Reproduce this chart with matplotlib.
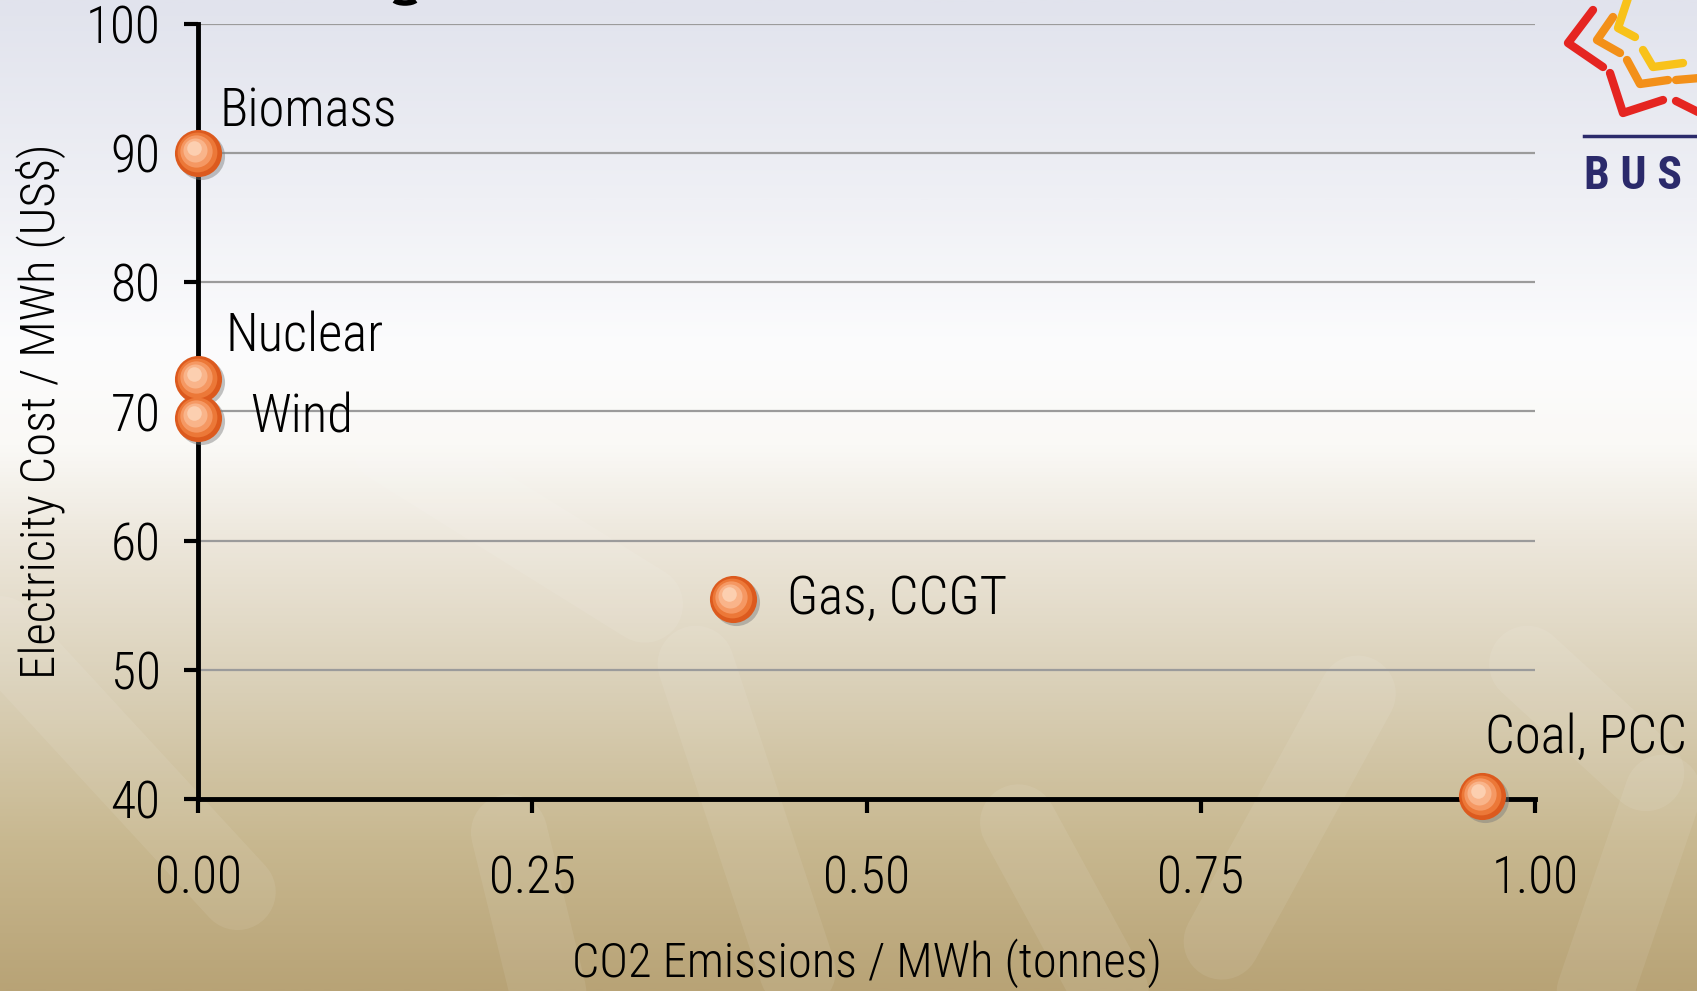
import numpy as np
import matplotlib
matplotlib.use("Agg")
from matplotlib import pyplot as plt
from matplotlib import transforms
from matplotlib.patches import Arc
from matplotlib.colors import LinearSegmentedColormap

# data
sources = ["Biomass", "Nuclear", "Wind", "Gas, CCGT", "Coal, PCC"]
co2_per_mwh = [0.0, 0.0, 0.0, 0.40, 0.96]
cost_per_mwh = [90.0, 72.5, 69.5, 55.5, 40.2]

x_ticks = [0.0, 0.25, 0.5, 0.75, 1.0]
x_tick_labels = ["0.00", "0.25", "0.50", "0.75", "1.00"]
y_ticks = [40, 50, 60, 70, 80, 90, 100]

# label offsets from each point, in pixels (layout only)
label_offsets = [(22, 41), (27, 42), (52, 0), (54, 0), (3, 58)]

plt.rcParams['font.family'] = ['Roboto Condensed', 'DejaVu Sans']
plt.rcParams['font.weight'] = 'light'
plt.rcParams['axes.labelweight'] = 'light'

fig = plt.figure(figsize=(16.97, 9.91), dpi=100)

# background gradient
bg = fig.add_axes([0, 0, 1, 1], zorder=-10)
stops = [(0.0, "#b8a376"), (0.15, "#c8b890"), (0.3, "#d9cfb6"), (0.45, "#ece6da"),
         (0.55, "#faf9f6"), (0.65, "#fcfcfd"), (0.8, "#eff0f5"), (1.0, "#e1e3ed")]
cmap = LinearSegmentedColormap.from_list("bg", stops)
grad = np.linspace(0, 1, 512).reshape(-1, 1)
bg.imshow(grad, aspect='auto', cmap=cmap, origin='lower', extent=[0, 1, 0, 1])
# faint swooshes
swooshes = [
    [(0.00, 0.36), (0.14, 0.10)],
    [(0.23, 0.55), (0.38, 0.39)],
    [(0.41, 0.33), (0.47, 0.02)],
    [(0.30, 0.16), (0.33, -0.05)],
    [(0.60, 0.17), (0.67, -0.05)],
    [(0.80, 0.30), (0.72, 0.05)],
    [(0.98, 0.20), (0.93, -0.05)],
    [(0.90, 0.33), (0.97, 0.22)],
]
for seg in swooshes:
    xs, ys = zip(*seg)
    bg.plot(xs, ys, color="white", lw=55, alpha=0.08, solid_capstyle='round')

# logo fragment at top right
chevrons = [
    ("#e52521", [(1593, 10), (1568, 43), (1603, 67)]),
    ("#e52521", [(1610, 73), (1623, 113), (1663, 100)]),
    ("#e52521", [(1676, 101), (1700, 113)]),
    ("#f39019", [(1613, 17), (1597, 40), (1620, 53)]),
    ("#f39019", [(1627, 60), (1640, 84), (1668, 80)]),
    ("#f39019", [(1676, 80), (1700, 78)]),
    ("#f8c21a", [(1628, -2), (1618, 28), (1635, 37)]),
    ("#f8c21a", [(1643, 50), (1653, 67), (1683, 63)]),
]
for col, pts in chevrons:
    xs = [p[0] / 1697 for p in pts]
    ys = [1 - p[1] / 991 for p in pts]
    bg.plot(xs, ys, color=col, lw=6, solid_capstyle='round', solid_joinstyle='round')
bg.plot([1584 / 1697, 1], [1 - 136 / 991] * 2, color="#2b2a6b", lw=2.5)
# cut-off title descender
bg.add_patch(Arc((405 / 1697, 1 + 2 / 991), 24 / 1697, 10 / 991, theta1=200, theta2=340,
                 color="black", lw=4))
bg.set_xlim(0, 1)
bg.set_ylim(0, 1)
bg.axis('off')
fig.text(1584 / 1697, 1 - 176 / 991, "B U S", color="#2b2a6b", fontsize=33,
         fontweight='bold', va='center', ha='left')

ax = fig.add_axes([198 / 1697, 1 - 799 / 991, (1535 - 198) / 1697, (799 - 24) / 991])
ax.set_facecolor('none')
ax.set_xlim(0, 1)
ax.set_ylim(40, 100)

ax.grid(axis='y', color="#9b9b9b", lw=1.6)
ax.set_axisbelow(True)
for s in ['top', 'right']:
    ax.spines[s].set_visible(False)
for s in ['left', 'bottom']:
    ax.spines[s].set_linewidth(3.5)
    ax.spines[s].set_color('black')

ax.set_xticks(x_ticks)
ax.set_xticklabels(x_tick_labels)
ax.set_yticks(y_ticks)
ax.tick_params(axis='x', direction='out', length=10, width=3, pad=30, labelsize=37)
ax.tick_params(axis='y', direction='out', length=10, width=3, pad=17, labelsize=37)

ax.set_xlabel("CO2 Emissions / MWh (tonnes)", fontsize=35, fontweight='light')
ax.set_ylabel("Electricity Cost / MWh (US$)", fontsize=35, fontweight='light')
ax.xaxis.set_label_coords(0.5, (799 - 963) / (799 - 24))
ax.xaxis.label.set_va('center')
ax.yaxis.set_label_coords((41 - 198) / (1535 - 198), 0.5)
ax.yaxis.label.set_va('center')

# shaded sphere markers
layers = [
    (1150, "#7a7a7a", 3, -3, 0.45),
    (1150, "#dc5a1e", 0, 0, 1.0),
    (820, "#ec7838", -1, 1, 1.0),
    (540, "#f59863", -2, 2, 1.0),
    (300, "#f9b48a", -3, 3, 1.0),
    (110, "#fccfb0", -4, 5, 1.0),
]
for size, col, dx, dy, a in layers:
    tr = transforms.offset_copy(ax.transData, fig=fig, x=dx, y=dy, units='dots')
    ax.scatter(co2_per_mwh, cost_per_mwh, s=size, color=col, alpha=a, lw=0,
               transform=tr, clip_on=False, zorder=5)

for name, x, y, (dx, dy) in zip(sources, co2_per_mwh, cost_per_mwh, label_offsets):
    ax.annotate(name, (x, y), xytext=(dx, dy), textcoords='offset pixels',
                ha='left', va='center', fontsize=38, zorder=6, annotation_clip=False)

fig.savefig("out.png", dpi=100)
